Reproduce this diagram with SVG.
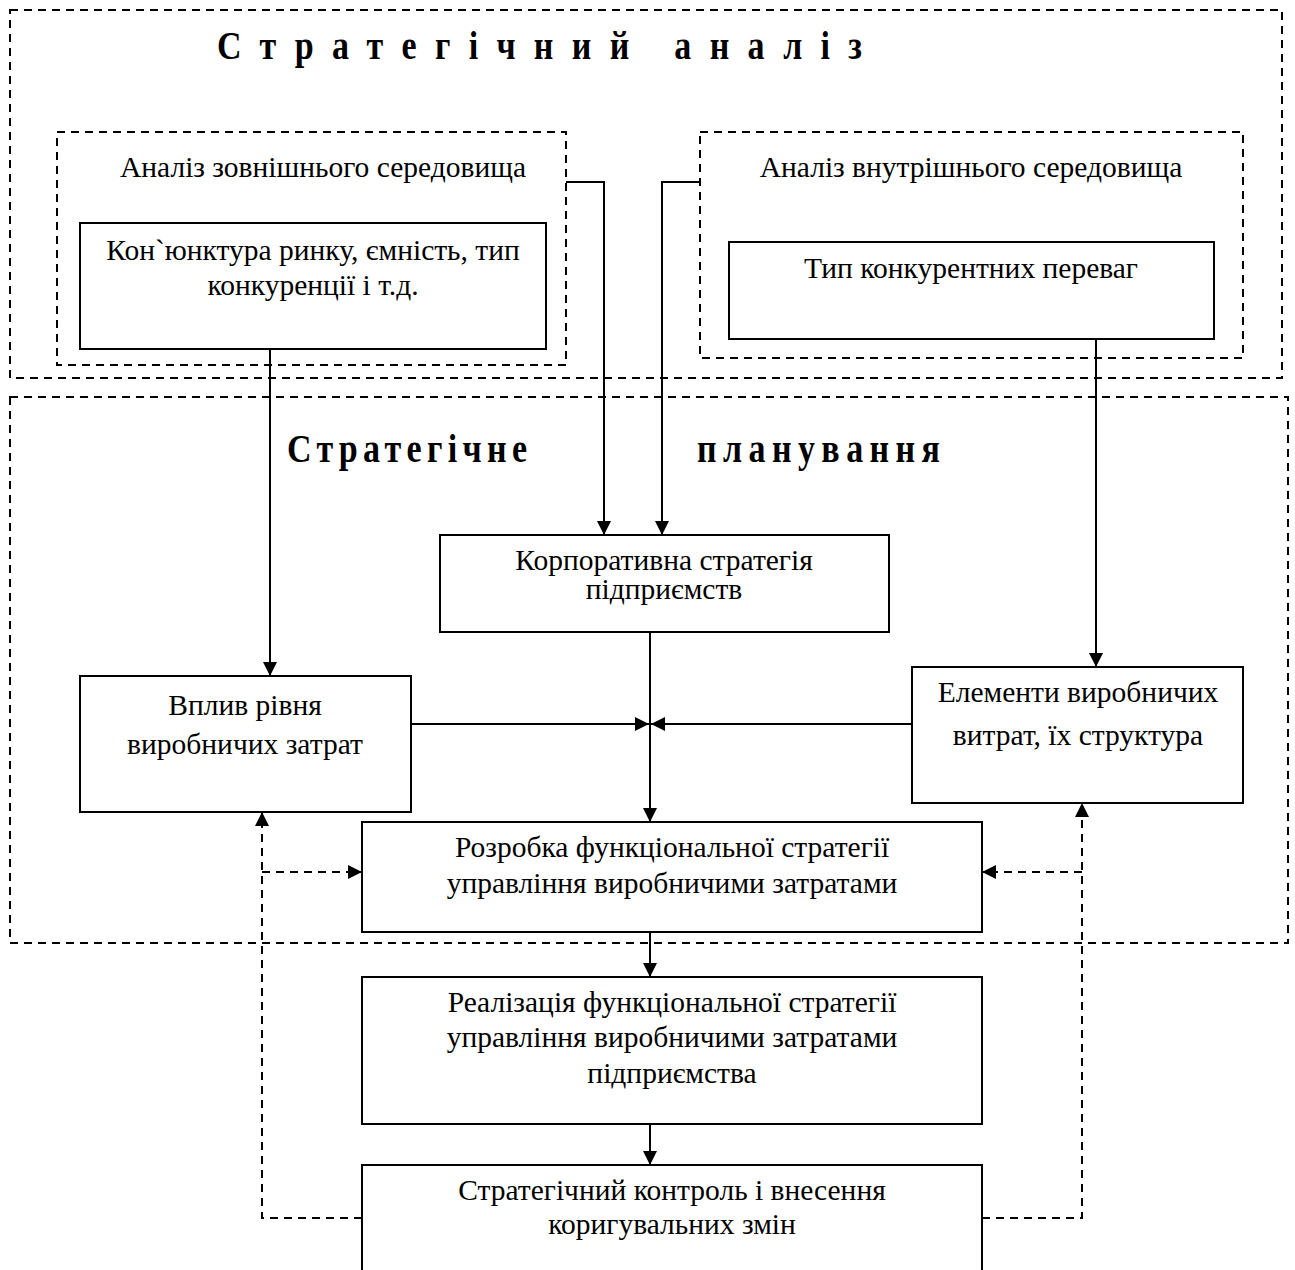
<svg xmlns="http://www.w3.org/2000/svg" width="1295" height="1270" viewBox="0 0 1295 1270">
<style>
.box{fill:#fff;stroke:#000;stroke-width:2}
.dbox{fill:none;stroke:#000;stroke-width:2;stroke-dasharray:8 6}
.ln{fill:none;stroke:#000;stroke-width:2}
.dl{fill:none;stroke:#000;stroke-width:2;stroke-dasharray:8 6}
.t{font-family:"Liberation Serif","Times New Roman",serif;font-size:29.5px;fill:#000;text-anchor:middle}
.h{font-family:"Liberation Serif","Times New Roman",serif;font-size:40px;font-weight:bold;fill:#000}
</style>
<defs>
<marker id="arr" viewBox="0 0 14 14" refX="14" refY="7" markerWidth="14" markerHeight="14" orient="auto" markerUnits="userSpaceOnUse">
<path d="M0,0 L14,7 L0,14 z" fill="#000"/>
</marker>
</defs>
<rect width="1295" height="1270" fill="#fff"/>
<g id="analysis-frame">
<rect class="dbox" x="10" y="10" width="1272" height="368"/>
<text class="h" transform="scale(0.85,1)" x="255.3" y="59" textLength="758.8" lengthAdjust="spacing">Стратегічний аналіз</text>
</g>
<g id="planning-frame">
<rect class="dbox" x="10" y="397" width="1278" height="546"/>
<text class="h" transform="scale(0.85,1)" x="337.6" y="462" textLength="282.4" lengthAdjust="spacing">Стратегічне</text>
<text class="h" transform="scale(0.85,1)" x="820" y="462" textLength="285.9" lengthAdjust="spacing">планування</text>
</g>
<g id="external-env">
<rect class="dbox" x="57" y="132" width="509" height="233"/>
<text class="t" x="323" y="177">Аналіз зовнішнього середовища</text>
</g>
<g id="internal-env">
<rect class="dbox" x="700" y="132" width="543" height="226"/>
<text class="t" x="971" y="177">Аналіз внутрішнього середовища</text>
</g>
<g id="market">
<rect class="box" x="80" y="223" width="466" height="126"/>
<text class="t" x="313" y="260">Кон`юнктура ринку, ємність, тип</text>
<text class="t" x="313" y="295">конкуренції і т.д.</text>
</g>
<g id="advantages">
<rect class="box" x="729" y="242" width="485" height="97"/>
<text class="t" x="971" y="278">Тип конкурентних переваг</text>
</g>
<g id="corporate">
<rect class="box" x="440" y="535" width="449" height="97"/>
<text class="t" x="664" y="570">Корпоративна стратегія</text>
<text class="t" x="664" y="599">підприємств</text>
</g>
<g id="influence">
<rect class="box" x="80" y="676" width="331" height="136"/>
<text class="t" x="245" y="715">Вплив рівня</text>
<text class="t" x="245" y="754">виробничих затрат</text>
</g>
<g id="elements">
<rect class="box" x="912" y="667" width="331" height="136"/>
<text class="t" x="1078" y="702">Елементи виробничих</text>
<text class="t" x="1078" y="745">витрат, їх структура</text>
</g>
<g id="development">
<rect class="box" x="362" y="822" width="620" height="110"/>
<text class="t" x="672" y="857">Розробка функціональної стратегії</text>
<text class="t" x="672" y="893">управління виробничими затратами</text>
</g>
<g id="implementation">
<rect class="box" x="362" y="977" width="620" height="147"/>
<text class="t" x="672" y="1012">Реалізація функціональної стратегії</text>
<text class="t" x="672" y="1047">управління виробничими затратами</text>
<text class="t" x="672" y="1083">підприємства</text>
</g>
<g id="control">
<rect class="box" x="362" y="1165" width="620" height="120"/>
<text class="t" x="672" y="1200">Стратегічний контроль і внесення</text>
<text class="t" x="672" y="1234">коригувальних змін</text>
</g>
<g id="connectors">
<path class="ln" d="M270,349 V676" marker-end="url(#arr)"/>
<path class="ln" d="M566,182 H604 V535" marker-end="url(#arr)"/>
<path class="ln" d="M700,182 H662 V535" marker-end="url(#arr)"/>
<path class="ln" d="M1096,339 V667" marker-end="url(#arr)"/>
<path class="ln" d="M650,632 V822" marker-end="url(#arr)"/>
<path class="ln" d="M411,724 H649" marker-end="url(#arr)"/>
<path class="ln" d="M912,724 H651" marker-end="url(#arr)"/>
<path class="ln" d="M650,932 V977" marker-end="url(#arr)"/>
<path class="ln" d="M650,1124 V1165" marker-end="url(#arr)"/>
<path class="dl" d="M362,1218 H262 V812" marker-end="url(#arr)"/>
<path class="dl" d="M262,872 H362" marker-end="url(#arr)"/>
<path class="dl" d="M982,1218 H1082 V803" marker-end="url(#arr)"/>
<path class="dl" d="M1082,872 H982" marker-end="url(#arr)"/>
</g>
</svg>
